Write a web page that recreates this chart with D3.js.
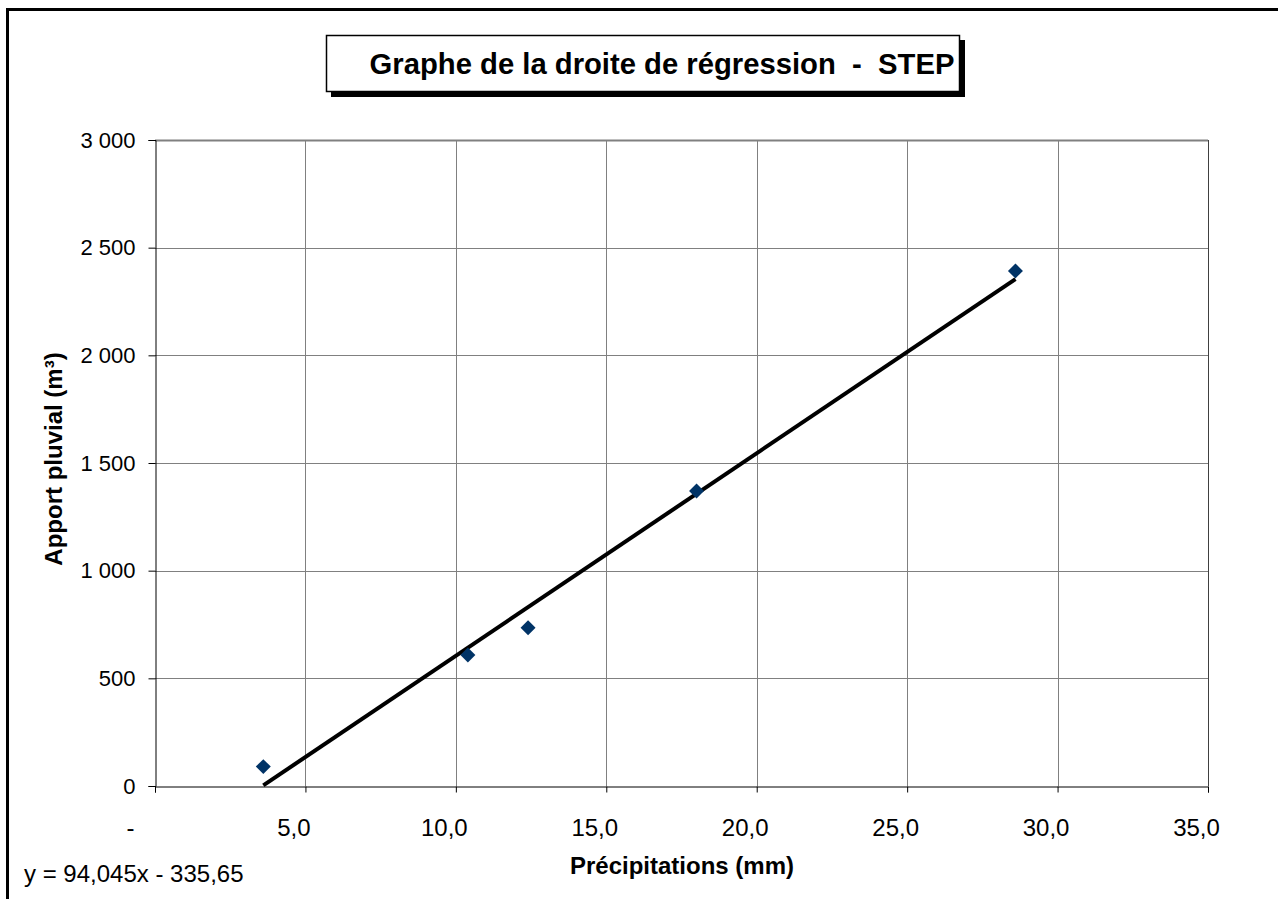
<!DOCTYPE html>
<html><head><meta charset="utf-8">
<script src="https://cdn.jsdelivr.net/npm/d3@7"></script>
<style>body{margin:0;background:#fff}svg{display:block}text{font-family:"Liberation Sans",Arial,sans-serif}</style>
</head><body>
<script>
const precipitations = [3.6, 10.4, 12.4, 18.0, 28.6];
const apport = [90, 608, 735, 1370, 2392];
const xTicks = [0, 5, 10, 15, 20, 25, 30, 35];
const yTicks = [0, 500, 1000, 1500, 2000, 2500, 3000];
const slope = 94.045, intercept = -335.65;
const title = "Graphe de la droite de régression  -  STEP";
const xTitle = "Précipitations (mm)";
const yTitle = "Apport pluvial (m³)";
const equation = "y = 94,045x - 335,65";

const W = 1278, H = 899;
const FONT = "Liberation Sans, Arial, sans-serif";
const svg = d3.select("body").append("svg").attr("width", W).attr("height", H);
const L = 155, R = 1208, T = 140, B = 786;
const x = d3.scaleLinear().domain([0, 35]).range([L, R]);
const y = d3.scaleLinear().domain([0, 3000]).range([B, T]);

// outer frame
svg.append("rect").attr("x", 7.5).attr("y", 9.5).attr("width", W).attr("height", H)
  .attr("fill", "none").attr("stroke", "#000").attr("stroke-width", 3);

// gridlines
svg.append("g").selectAll("line").data(yTicks.filter(d => d > 0)).join("line")
  .attr("x1", L).attr("x2", R).attr("y1", d => Math.round(y(d)) + 0.5).attr("y2", d => Math.round(y(d)) + 0.5)
  .attr("stroke", "#808080").attr("stroke-width", 1);
svg.append("g").selectAll("line").data(xTicks.filter(d => d > 0 && d < 35)).join("line")
  .attr("y1", T).attr("y2", B).attr("x1", d => Math.round(x(d)) + 0.5).attr("x2", d => Math.round(x(d)) + 0.5)
  .attr("stroke", "#808080").attr("stroke-width", 1);
// plot border right/top
svg.append("line").attr("x1", R + 0.5).attr("x2", R + 0.5).attr("y1", T).attr("y2", B).attr("stroke", "#404040");
svg.append("line").attr("x1", L).attr("x2", R).attr("y1", T + 0.5).attr("y2", T + 0.5).attr("stroke", "#808080").attr("stroke-width", 2);

// axes
const fmtY = d => d3.format(",")(d).replace(/,/g, " ");
const fmtX = d => d === 0 ? "-" : d3.format(".1f")(d).replace(".", ",");
const yAxis = d3.axisLeft(y).tickValues(yTicks).tickFormat(fmtY).tickSize(7).tickPadding(13);
const xAxis = d3.axisBottom(x).tickValues(xTicks).tickFormat(fmtX).tickSize(6).tickPadding(26);
const gy = svg.append("g").attr("transform", `translate(${L + 0.5},0)`).call(yAxis);
const gx = svg.append("g").attr("transform", `translate(0,${B + 0.5})`).call(xAxis);
[gx, gy].forEach(g => {
  g.attr("font-family", FONT);
  g.select(".domain").attr("stroke", "#000");
  g.selectAll(".tick line").attr("stroke", "#000");
  g.selectAll(".tick text").attr("fill", "#000");
});
gy.selectAll(".tick text").attr("font-size", 22);
gx.selectAll(".tick text").attr("font-size", 24).attr("dx", d => d === 0 ? -25 : -12);

// regression line
const xmin = d3.min(precipitations), xmax = d3.max(precipitations);
svg.append("line")
  .attr("x1", x(xmin)).attr("y1", y(Math.max(0, slope * xmin + intercept)))
  .attr("x2", x(xmax)).attr("y2", y(slope * xmax + intercept))
  .attr("stroke", "#000").attr("stroke-width", 4);

// points (diamonds)
const sym = d3.symbol().type(d3.symbolSquare).size(112);
svg.append("g").selectAll("path").data(precipitations.map((p, i) => [p, apport[i]])).join("path")
  .attr("d", sym)
  .attr("transform", d => `translate(${x(d[0])},${y(d[1])}) rotate(45)`)
  .attr("fill", "#003366");

// title box
svg.append("rect").attr("x", 331).attr("y", 40).attr("width", 634).attr("height", 57).attr("fill", "#000");
svg.append("rect").attr("x", 326.5).attr("y", 35.5).attr("width", 633).attr("height", 56)
  .attr("fill", "#fff").attr("stroke", "#000").attr("stroke-width", 1.5);
const tt = svg.append("text").attr("x", 662).attr("y", 74).attr("text-anchor", "middle")
  .attr("font-size", 22).attr("font-weight", "bold").attr("xml:space", "preserve")
  .style("white-space", "pre").text(title);
const tw = tt.node().getComputedTextLength();
tt.attr("font-size", 22 * 585 / tw);

// axis titles
svg.append("text").attr("x", 682).attr("y", 874).attr("text-anchor", "middle")
  .attr("font-size", 24).attr("font-weight", "bold").text(xTitle);
svg.append("text").attr("transform", "translate(62,459) rotate(-90)").attr("text-anchor", "middle")
  .attr("font-size", 24).attr("font-weight", "bold").text(yTitle);

// equation
svg.append("text").attr("x", 24).attr("y", 882).attr("font-size", 24).text(equation);
</script>
</body></html>
